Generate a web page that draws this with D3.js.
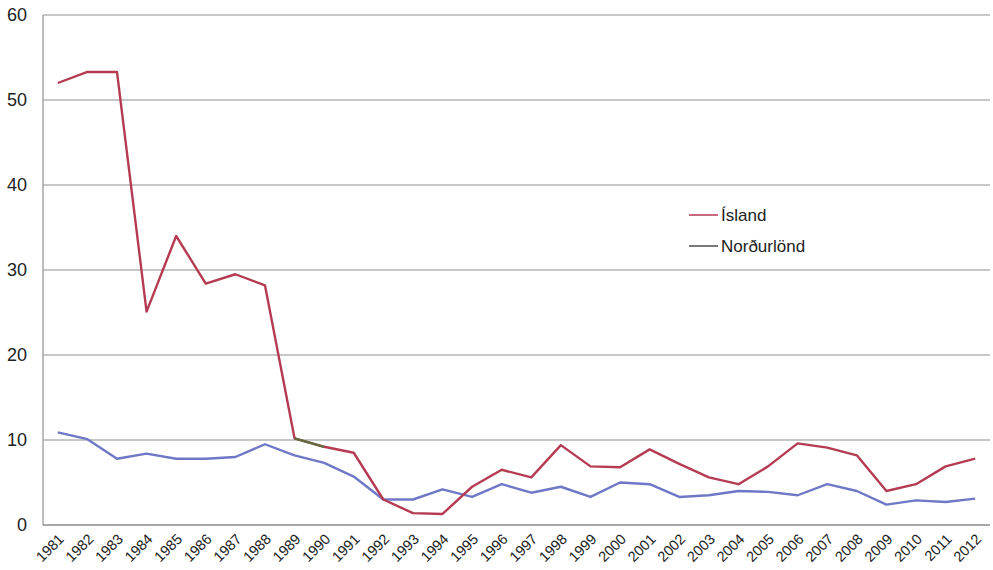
<!DOCTYPE html>
<html>
<head>
<meta charset="utf-8">
<script src="https://cdn.jsdelivr.net/npm/d3@7"></script>
<style>
  html, body { margin: 0; padding: 0; background: #fff; }
  svg { display: block; font-family: "Liberation Sans", Arial, sans-serif; }
  .grid line { stroke: #b4b4b4; stroke-width: 1.3; }
  .ytick text { font-size: 18px; fill: #222; }
  .xtick text { font-size: 14.5px; fill: #222; }
  .legend text { font-size: 17px; fill: #222; }
</style>
</head>
<body>
<svg id="chart" width="993" height="570"></svg>
<script>
// years on the x axis
const years = d3.range(1981, 2013).map(String);

// Ísland
const island = [52.0, 53.3, 53.3, 25.1, 34.0, 28.4, 29.5, 28.2, 10.2, 9.2,
  8.5, 3.0, 1.4, 1.3, 4.5, 6.5, 5.6, 9.4, 6.9, 6.8,
  8.9, 7.2, 5.6, 4.8, 6.9, 9.6, 9.1, 8.2, 4.0, 4.8,
  6.9, 7.8];

// Norðurlönd
const nordurlond = [10.9, 10.1, 7.8, 8.4, 7.8, 7.8, 8.0, 9.5, 8.2, 7.3,
  5.7, 3.0, 3.0, 4.2, 3.3, 4.8, 3.8, 4.5, 3.3, 5.0,
  4.8, 3.3, 3.5, 4.0, 3.9, 3.5, 4.8, 4.0, 2.4, 2.9,
  2.7, 3.1];

const yTicks = [0, 10, 20, 30, 40, 50, 60];

const series = [
  { name: 'Ísland', values: island, color: '#b53b52', legendColor: '#c86a80' },
  { name: 'Norðurlönd', values: nordurlond, color: '#6f78c6', legendColor: '#7a7a7a' },
];

(function () {
  const svg = d3.select('#chart');
  const left = 43, right = 990, top = 15, bottom = 525;

  const x = d3.scaleBand().domain(years).range([left, right]);
  const cx = d => x(d) + x.bandwidth() / 2;
  const y = d3.scaleLinear().domain([0, 60]).range([bottom, top]);

  // ─── gridlines ───
  const grid = svg.append('g').attr('class', 'grid');
  grid.selectAll('line')
    .data(yTicks.filter(t => t > 0))
    .enter()
    .append('line')
    .attr('x1', left).attr('x2', right)
    .attr('y1', d => y(d)).attr('y2', d => y(d));

  // axes lines
  svg.append('line')
    .attr('x1', left).attr('x2', left).attr('y1', top).attr('y2', bottom)
    .attr('stroke', '#9a9a9a').attr('stroke-width', 1.3);
  svg.append('line')
    .attr('x1', left).attr('x2', right).attr('y1', bottom).attr('y2', bottom)
    .attr('stroke', '#8a8a8a').attr('stroke-width', 1.5);

  // ─── y labels ───
  svg.append('g').attr('class', 'ytick')
    .selectAll('text')
    .data(yTicks)
    .enter()
    .append('text')
    .attr('x', 27)
    .attr('y', d => y(d) + 6)
    .attr('text-anchor', 'end')
    .text(d => d);

  // ─── x labels, rotated ───
  svg.append('g').attr('class', 'xtick')
    .selectAll('text')
    .data(years)
    .enter()
    .append('text')
    .attr('text-anchor', 'end')
    .attr('transform', d => `translate(${cx(d) + 7}, ${bottom + 15}) rotate(-45)`)
    .text(d => d);

  // ─── lines ───
  const line = d3.line()
    .x(d => cx(d.year))
    .y(d => y(d.v));
  const pts = vals => vals.map((v, i) => ({ year: years[i], v }));

  series.slice().reverse().forEach(s => {
    svg.append('path')
      .attr('d', line(pts(s.values)))
      .attr('fill', 'none')
      .attr('stroke', s.color)
      .attr('stroke-width', 2.4)
      .attr('stroke-linejoin', 'round');
  });

  // the 1989–1990 stretch of the Ísland line is drawn olive in the original
  svg.append('path')
    .attr('d', line(pts(island).slice(8, 10)))
    .attr('fill', 'none')
    .attr('stroke', '#5f6b3e')
    .attr('stroke-width', 2.4);

  // ─── legend ───
  const lg = svg.append('g').attr('class', 'legend');
  series.forEach((s, i) => {
    const ly = 215 + i * 31;
    lg.append('line')
      .attr('x1', 689).attr('x2', 718)
      .attr('y1', ly).attr('y2', ly)
      .attr('stroke', s.legendColor).attr('stroke-width', 2);
    lg.append('text')
      .attr('x', 721).attr('y', ly + 6)
      .text(s.name);
  });
})();
</script>
</body>
</html>
